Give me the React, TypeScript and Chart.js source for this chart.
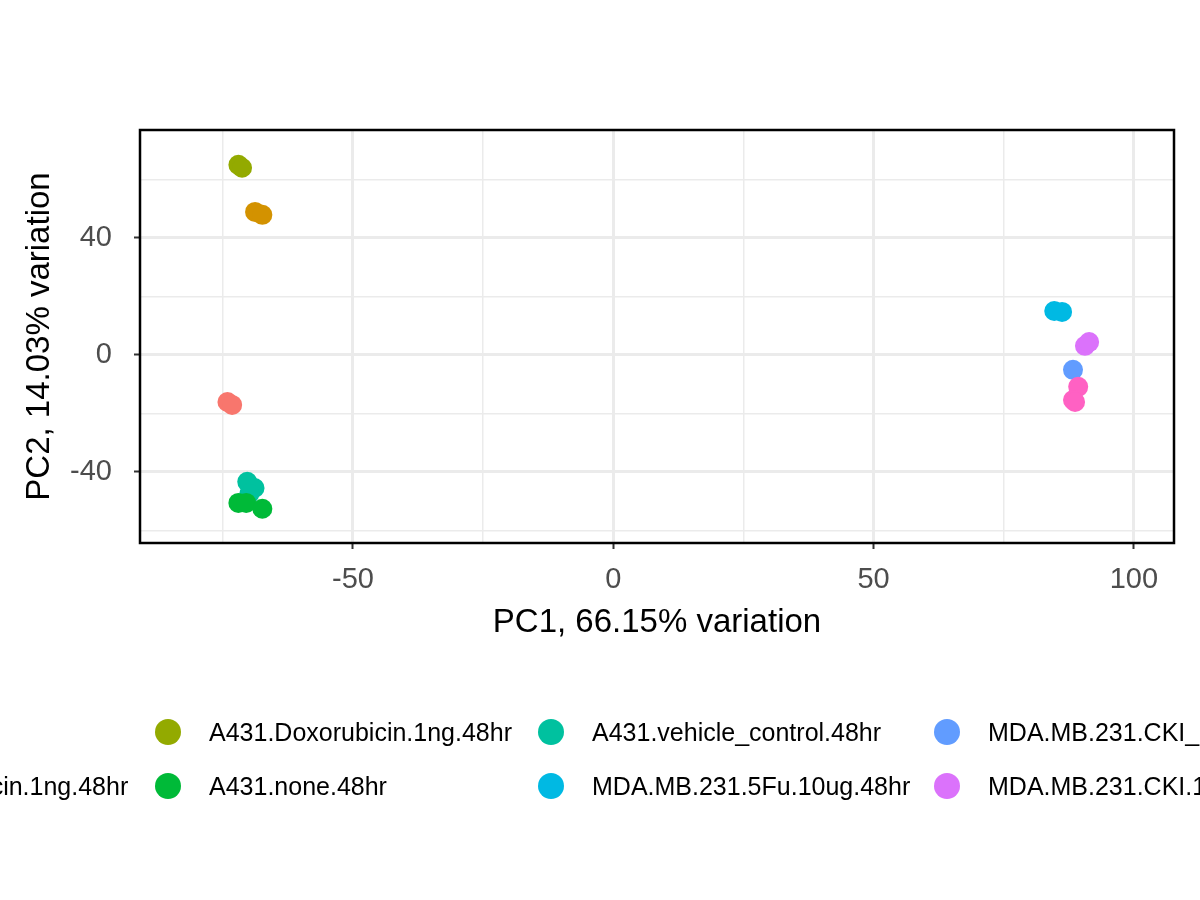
import React, { useEffect, useRef } from "react";
import { Chart, registerables } from "chart.js";
Chart.register(...registerables);

const groups = [
  "A431.5Fu.48hr",
  "A431.Aclarubicin.1ng.48hr",
  "A431.Doxorubicin.1ng.48hr",
  "A431.none.48hr",
  "A431.vehicle_control.48hr",
  "MDA.MB.231.5Fu.10ug.48hr",
  "MDA.MB.231.CKI_10ug.48hr",
  "MDA.MB.231.CKI.1ng.48hr",
  "MDA.MB.231.none.48hr",
];
const colors = ["#F8766D", "#D39200", "#93AA00", "#00BA38", "#00C19F", "#00B9E3", "#619CFF", "#DB72FB", "#FF61C3"];
const pc1: number[][] = [
  [-74.1, -73.2],
  [-68.8, -67.4],
  [-72.0, -71.3],
  [-72.0, -70.5, -67.4],
  [-70.3, -68.9, -69.9],
  [84.7, 86.2],
  [88.3],
  [90.6, 91.4],
  [89.3, 88.3, 88.7],
];
const pc2: number[][] = [
  [-16.1, -17.1],
  [48.9, 47.9],
  [65.0, 64.0],
  [-50.6, -50.6, -52.6],
  [-43.4, -45.5, -47.5],
  [15.0, 14.7],
  [-5.1],
  [3.1, 4.4],
  [-10.9, -15.4, -16.1],
];
const xTicks = [-75, -50, -25, 0, 25, 50, 75, 100];
const yTicks = [-60, -40, -20, 0, 20, 40, 60];
const xLabeled = [-50, 0, 50, 100];
const yLabeled = [-40, 0, 40];

// legend columns (circle center x), row y
const legendCols = [-206, 168, 551, 947, 1330];
const legendRows = [732, 786];
const FONT = "Liberation Sans, Arial, sans-serif";

export default function App() {
  const ref = useRef<HTMLCanvasElement>(null);
  useEffect(() => {
    const border = {
      id: "border",
      afterDraw(c: any) {
        const a = c.chartArea;
        const ctx = c.ctx;
        ctx.save();
        ctx.strokeStyle = "#000";
        ctx.lineWidth = 2.5;
        ctx.strokeRect(a.left, a.top, a.right - a.left, a.bottom - a.top);
        ctx.restore();
      },
    };
    const order = [0, 1, 2, 3, 4, 5, 8, 6, 7];
    const chart = new Chart(ref.current!, {
      type: "scatter",
      data: {
        datasets: order.map((g) => ({
          label: groups[g],
          data: pc1[g].map((x, i) => ({ x, y: pc2[g][i] })),
          backgroundColor: colors[g],
          borderWidth: 0,
          pointRadius: 10,
        })),
      },
      options: {
        animation: false,
        responsive: false,
        layout: { padding: { top: 130, right: 26, left: 0, bottom: 257 } },
        plugins: { legend: { display: false }, tooltip: { enabled: false } },
        scales: {
          x: {
            min: -90.9,
            max: 107.7,
            afterBuildTicks: (s: any) => { s.ticks = xTicks.map((v) => ({ value: v })); },
            afterFit: (s: any) => { s.height = 100; },
            ticks: {
              autoSkip: false,
              maxRotation: 0,
              padding: 14,
              color: "#4D4D4D",
              font: { size: 29, family: FONT },
              callback: (v: any) => (xLabeled.includes(v) ? String(v) : ""),
            },
            grid: {
              color: "#EBEBEB",
              lineWidth: (c: any) => (xLabeled.includes(c.tick?.value) ? 3 : 1.5),
              tickLength: 6,
              tickColor: (c: any) => (xLabeled.includes(c.tick?.value) ? "#333" : "rgba(0,0,0,0)"),
              tickWidth: 2,
            },
            border: { display: false },
            title: {
              display: true,
              text: "PC1, 66.15% variation",
              color: "#000",
              font: { size: 33, family: FONT },
              padding: { top: 0, bottom: 0 },
            },
          },
          y: {
            min: -64.3,
            max: 76.9,
            afterBuildTicks: (s: any) => { s.ticks = yTicks.map((v) => ({ value: v })); },
            afterFit: (s: any) => { s.width = 140; },
            ticks: {
              autoSkip: false,
              padding: 22,
              color: "#4D4D4D",
              font: { size: 29, family: FONT },
              callback: (v: any) => (yLabeled.includes(v) ? String(v) : ""),
            },
            grid: {
              color: "#EBEBEB",
              lineWidth: (c: any) => (yLabeled.includes(c.tick?.value) ? 3 : 1.5),
              tickLength: 6,
              tickColor: (c: any) => (yLabeled.includes(c.tick?.value) ? "#333" : "rgba(0,0,0,0)"),
              tickWidth: 2,
            },
            border: { display: false },
            title: {
              display: true,
              text: "PC2, 14.03% variation",
              color: "#000",
              font: { size: 33, family: FONT },
              padding: { top: 20, bottom: 0 },
            },
          },
        },
      },
      plugins: [border],
    });
    return () => chart.destroy();
  }, []);

  return (
    <div style={{ position: "absolute", left: 0, top: 0, width: 1200, height: 900, overflow: "hidden", background: "#fff" }}>
      <canvas ref={ref} width={1200} height={900} style={{ position: "absolute", left: 0, top: 0 }} />
      {groups.map((g, i) => {
        const col = Math.floor(i / 2);
        const row = i % 2;
        const cx = legendCols[col];
        const cy = legendRows[row];
        return (
          <div key={g}>
            <div style={{ position: "absolute", left: cx - 13, top: cy - 13, width: 26, height: 26, borderRadius: 13, background: colors[i] }} />
            <div style={{ position: "absolute", left: cx + 41, top: cy - 14, height: 28, lineHeight: "28px", fontSize: 25, fontFamily: FONT, color: "#000", whiteSpace: "nowrap" }}>{g}</div>
          </div>
        );
      })}
    </div>
  );
}
